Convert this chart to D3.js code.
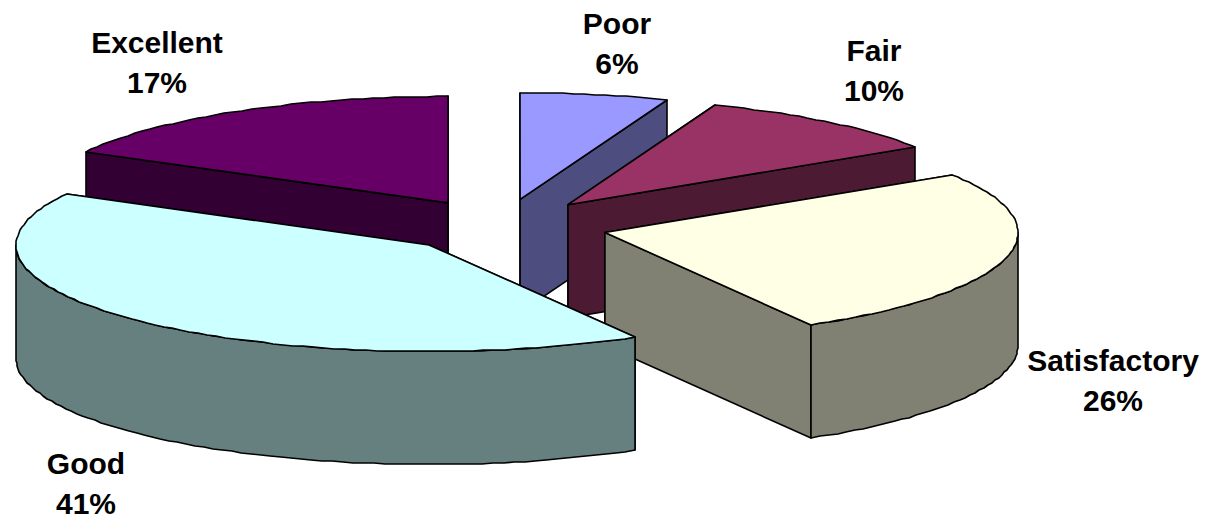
<!DOCTYPE html>
<html>
<head>
<meta charset="utf-8">
<style>html,body{margin:0;padding:0;background:#fff}svg{display:block}</style>
<script src="https://cdn.jsdelivr.net/npm/d3@7/dist/d3.min.js"></script>
</head>
<body>
<script>
// Data (labels show them rounded)
const categories = ["Poor", "Fair", "Satisfactory", "Good", "Excellent"];
const percents = [5.8, 10.1, 25.8, 41.3, 17.0];
const topColors = ["#9999FF", "#993366", "#FFFFE6", "#CCFFFF", "#660066"];
const wallColors = ["#4D4D80", "#4D1A33", "#808073", "#668080", "#330033"];
const explodes = [0.255, 0.2575, 0.259, 0.249, 0.252];
const labelAnchors = [[617, 34], [874, 61], [1113, 371], [86, 474], [157, 53]];
const paintOrder = [4, 0, 1, 2, 3];

// Layout
const W = 1207, H = 517;
const rx = 413, ry = 106.5, depth = 113;
const cx = 501, cy = 226;

const svg = d3.select("body").append("svg").attr("width", W).attr("height", H)
  .attr("viewBox", `0 0 ${W} ${H}`);

// Projection: unit circle in the pie plane -> screen
const px = d3.scaleLinear().domain([-1, 1]).range([cx - rx, cx + rx]);
const py = d3.scaleLinear().domain([-1, 1]).range([cy - ry, cy + ry]);

const arcs = d3.pie().sort(null).startAngle(0).endAngle(2 * Math.PI)(percents);
const line = d3.line();

function slice(d, i) {
  const mid = (d.startAngle + d.endAngle) / 2;
  const ox = explodes[i] * Math.sin(mid), oy = -explodes[i] * Math.cos(mid);
  const apex = [px(ox), py(oy)];
  const rim = a => [Math.round(px(ox + Math.sin(a))), Math.round(py(oy - Math.cos(a)))];
  return { apex, rim };
}
const down = p => [p[0], p[1] + depth];
// polyline sampling of the rim, about every 1.5 degrees
const sample = (a0, a1) => {
  const n = Math.max(2, Math.ceil((a1 - a0) / (Math.PI / 120)));
  return d3.range(0, n + 1).map(k => a0 + (a1 - a0) * k / n);
};

function face(pts, fill) {
  svg.append("path").attr("d", line(pts) + "Z")
    .attr("fill", fill).attr("stroke", "#000").attr("stroke-width", 1.6)
    .attr("stroke-linejoin", "round");
}

paintOrder.forEach(i => {
  const d = arcs[i];
  const { apex, rim } = slice(d, i);
  const s = rim(d.startAngle), e = rim(d.endAngle);
  // straight side walls
  face([apex, s, down(s), down(apex)], wallColors[i]);
  face([apex, e, down(e), down(apex)], wallColors[i]);
  // curved outer wall: only the part facing the viewer
  const a0 = Math.max(d.startAngle, Math.PI / 2), a1 = Math.min(d.endAngle, 3 * Math.PI / 2);
  if (a1 > a0) {
    const upper = sample(a0, a1).map(rim);
    face(upper.concat(upper.slice().reverse().map(down)), wallColors[i]);
  }
  // top surface
  face([apex].concat(sample(d.startAngle, d.endAngle).map(rim)), topColors[i]);
});

// Labels
const lh = 40;
categories.forEach((c, i) => {
  const t = svg.append("text")
    .attr("text-anchor", "middle")
    .attr("font-family", "'Liberation Sans', Arial, sans-serif")
    .attr("font-weight", "bold").attr("font-size", 30).attr("fill", "#000");
  t.append("tspan").attr("x", labelAnchors[i][0]).attr("y", labelAnchors[i][1]).text(c);
  t.append("tspan").attr("x", labelAnchors[i][0]).attr("y", labelAnchors[i][1] + lh).text(Math.round(percents[i]) + "%");
});
</script>
</body>
</html>
